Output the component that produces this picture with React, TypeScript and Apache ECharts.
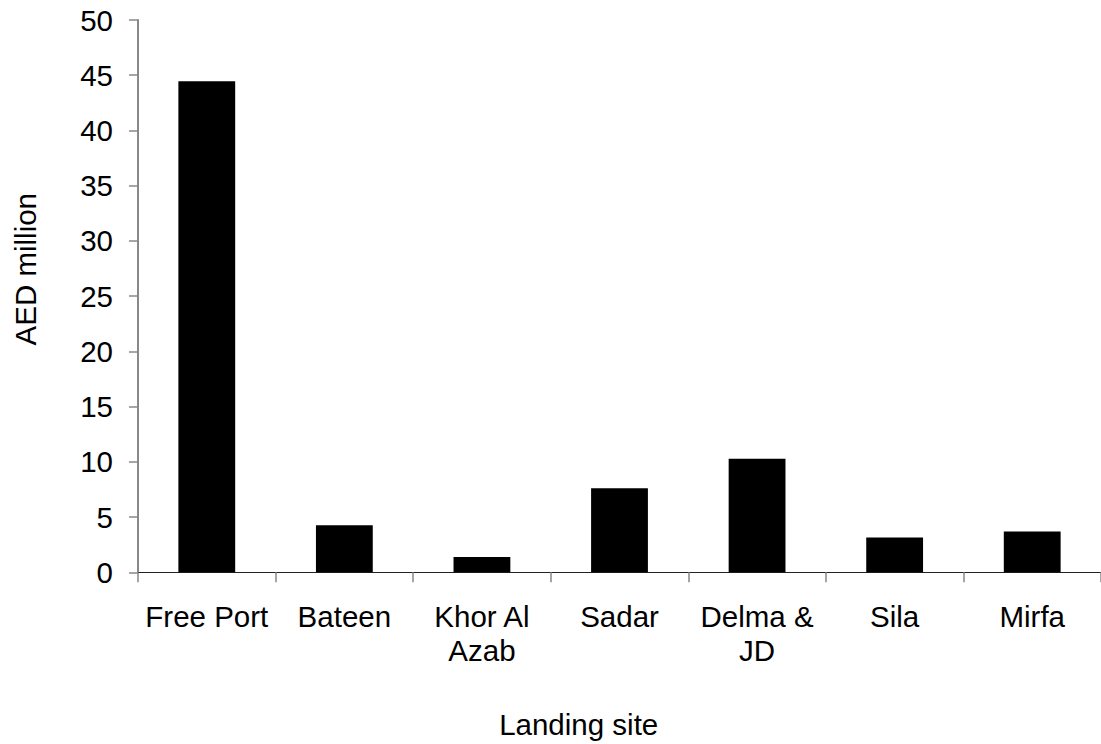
import React, { useEffect, useRef } from "react";
import * as echarts from "echarts";

const categories = ["Free Port", "Bateen", "Khor Al\nAzab", "Sadar", "Delma &\nJD", "Sila", "Mirfa"];
const values = [44.45, 4.25, 1.39, 7.62, 10.27, 3.16, 3.7];
const yMin = 0;
const yMax = 50;
const yInterval = 5;
const yTitle = "AED million";
const xTitle = "Landing site";

const FONT = "'Liberation Sans', Arial, Helvetica, sans-serif";
const FS = 29.5;

export default function App() {
  const ref = useRef<HTMLDivElement>(null);
  useEffect(() => {
    if (!ref.current) return;
    const chart = echarts.init(ref.current, undefined, { renderer: "svg" });
    chart.setOption({
      animation: false,
      backgroundColor: "#ffffff",
      grid: { left: 138, right: -2, top: 20, bottom: 171.7, containLabel: false },
      xAxis: {
        type: "category",
        data: categories,
        boundaryGap: true,
        axisLine: { show: true, lineStyle: { color: "#222222", width: 1 } },
        axisTick: { show: true, interval: 0, length: 10, lineStyle: { color: "#888888", width: 1.5 } },
        axisLabel: {
          interval: 0,
          margin: 27,
          color: "#000000",
          fontFamily: FONT,
          fontSize: FS,
          lineHeight: 34.3,
          align: "center",
        },
        splitLine: { show: false },
      },
      yAxis: {
        type: "value",
        min: yMin,
        max: yMax,
        interval: yInterval,
        axisLine: { show: true, lineStyle: { color: "#888888", width: 2 } },
        axisTick: { show: true, length: 9, inside: false, lineStyle: { color: "#888888", width: 1.5 } },
        axisLabel: {
          margin: 25,
          color: "#000000",
          fontFamily: FONT,
          fontSize: FS,
        },
        splitLine: { show: false },
      },
      series: [
        {
          type: "bar",
          data: values,
          barCategoryGap: "58.7%",
          itemStyle: { color: "#000000" },
        },
      ],
      graphic: [
        {
          type: "text",
          x: 25.5,
          y: 269.2,
          rotation: Math.PI / 2,
          style: {
            text: yTitle,
            fontFamily: FONT,
            fontSize: FS,
            fill: "#000000",
            align: "center",
            verticalAlign: "middle",
          },
        },
        {
          type: "text",
          x: 578.7,
          y: 724,
          style: {
            text: xTitle,
            fontFamily: FONT,
            fontSize: FS,
            fill: "#000000",
            align: "center",
            verticalAlign: "middle",
          },
        },
      ],
    });
    return () => chart.dispose();
  }, []);
  return (
    <div
      ref={ref}
      style={{ position: "fixed", left: 0, top: 0, width: 1101, height: 744, background: "#fff" }}
    />
  );
}
